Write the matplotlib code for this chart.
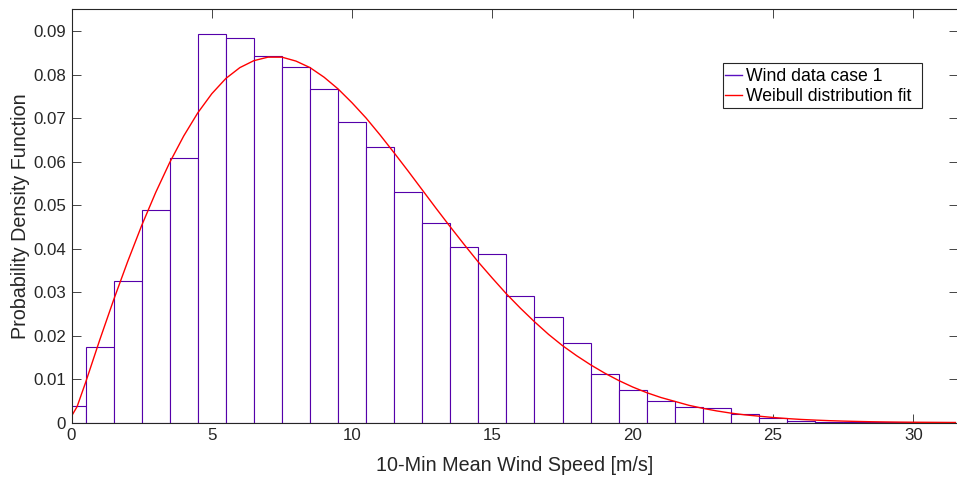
import matplotlib
matplotlib.use("Agg")
import matplotlib.pyplot as plt
from matplotlib.lines import Line2D
from matplotlib.patches import Rectangle

plt.rcParams['font.family'] = ['Liberation Sans', 'DejaVu Sans']

# Histogram bins (centres, m/s) and PDF heights
bin_centers = list(range(0, 32))
bin_heights = [0.0038, 0.0174, 0.0326, 0.0489, 0.0608, 0.0893, 0.0883, 0.0842,
               0.0817, 0.0766, 0.0691, 0.0633, 0.0530, 0.0459, 0.0404, 0.0387,
               0.0291, 0.0242, 0.0184, 0.0111, 0.0074, 0.0049, 0.0035, 0.0034,
               0.0019, 0.0010, 0.0005, 0.0002, 0.0001, 0.0001, 0.00005, 0.00005]

# Weibull fit curve
fit_x = [0.0, 0.2, 0.5, 1.0, 1.5, 2.0, 2.5, 3.0, 3.5, 4.0, 4.5, 5.0, 5.5, 6.0,
         6.5, 7.0, 7.5, 8.0, 8.5, 9.0, 9.5, 10.0, 10.5, 11.0, 11.5, 12.0, 12.5,
         13.0, 13.5, 14.0, 14.5, 15.0, 15.5, 16.0, 16.5, 17.0, 17.5, 18.0, 18.5,
         19.0, 19.5, 20.0, 20.5, 21.0, 21.5, 22.0, 22.5, 23.0, 23.5, 24.0, 24.5,
         25.0, 25.5, 26.0, 26.5, 27.0, 27.5, 28.0, 28.5, 29.0, 29.5, 30.0, 30.5,
         31.0, 31.5]
fit_y = [0.0015, 0.0037, 0.0092, 0.0189, 0.0282, 0.0370, 0.0453, 0.0529, 0.0598,
         0.0659, 0.0712, 0.0756, 0.0791, 0.0816, 0.0832, 0.0840, 0.0840, 0.0831,
         0.0816, 0.0794, 0.0767, 0.0735, 0.0700, 0.0661, 0.0620, 0.0578, 0.0535,
         0.0492, 0.0450, 0.0409, 0.0369, 0.0332, 0.0296, 0.0263, 0.0232, 0.0203,
         0.0177, 0.0154, 0.0133, 0.0114, 0.0097, 0.0082, 0.0069, 0.0058, 0.0049,
         0.0040, 0.0033, 0.0027, 0.0022, 0.0018, 0.0015, 0.0012, 0.00095, 0.00075,
         0.0006, 0.00047, 0.00037, 0.00029, 0.00022, 0.00017, 0.00013, 0.0001,
         0.00008, 0.00006, 0.00004]

x_ticks = [0, 5, 10, 15, 20, 25, 30]
y_ticks = [0, 0.01, 0.02, 0.03, 0.04, 0.05, 0.06, 0.07, 0.08, 0.09]
y_tick_labels = ['0', '0.01', '0.02', '0.03', '0.04', '0.05', '0.06', '0.07', '0.08', '0.09']

W, H = 957, 478
fig = plt.figure(figsize=(W / 100, H / 100), dpi=100)
left, right, top, bottom = 71.5, 958.2, 9.3, 422.7
ax = fig.add_axes([left / W, 1 - bottom / H, (right - left) / W, (bottom - top) / H])

bar_color = '#5500AA'
ax.bar(bin_centers, bin_heights, width=1.0, facecolor='white',
       edgecolor=bar_color, linewidth=0.8, zorder=2)
ax.plot(fit_x, fit_y, color='red', linewidth=1.0, zorder=3)

ax.set_xlim(0, 31.6)
ax.set_ylim(0, 0.095)
ax.set_xticks(x_ticks)
ax.set_xticklabels([str(t) for t in x_ticks])
ax.set_yticks(y_ticks)
ax.set_yticklabels(y_tick_labels)

tick_c = '#262626'
ax.tick_params(direction='in', length=6.5, width=0.6, colors=tick_c,
               labelsize=12.2, top=True, right=True, pad=4)
for s in ax.spines.values():
    s.set_color(tick_c)
    s.set_linewidth(0.8)
    s.set_zorder(4)

ax.set_xlabel('10-Min Mean Wind Speed [m/s]', fontsize=14.2, color=tick_c, labelpad=9)
ax.set_ylabel('Probability Density Function', fontsize=14.2, color=tick_c, labelpad=2)

# Legend box (MATLAB style, extra right padding)
bx0, by0, bx1, by1 = 722.7, 62.7, 922.3, 108.3
fig.patches.append(Rectangle((bx0 / W, 1 - by1 / H), (bx1 - bx0) / W, (by1 - by0) / H,
                             transform=fig.transFigure, facecolor='white',
                             edgecolor=tick_c, linewidth=0.8, zorder=5))

handles = [Line2D([0], [0], color='#5A10C0', lw=1.0),
           Line2D([0], [0], color='red', lw=1.0)]
leg = fig.legend(handles, ['Wind data case 1', 'Weibull distribution fit'],
                 loc='upper left', bbox_to_anchor=(725.0 / W, 1 - 67.8 / H),
                 bbox_transform=fig.transFigure,
                 borderaxespad=0, fontsize=12.7, handlelength=0.97, handletextpad=0.2,
                 borderpad=0, labelspacing=0.19, frameon=False)
leg.set_zorder(6)

fig.savefig('out.png', dpi=100)
